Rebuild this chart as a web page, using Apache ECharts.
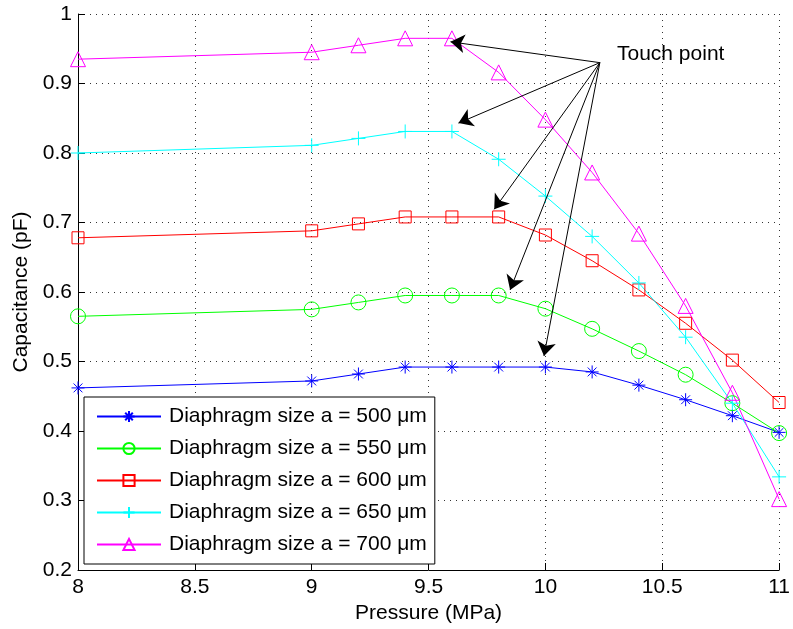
<!DOCTYPE html>
<html>
<head>
<meta charset="utf-8">
<script src="https://cdn.jsdelivr.net/npm/echarts@6/dist/echarts.min.js"></script>
<style>
html, body { margin: 0; padding: 0; background: #fff; }
#main { width: 793px; height: 629px; }
</style>
</head>
<body>
<div id="main"></div>
<script>
var dom = document.getElementById("main");
var myChart = echarts.init(dom);

// pressure (MPa)
var pressure = [8, 9, 9.2, 9.4, 9.6, 9.8, 10, 10.2, 10.4, 10.6, 10.8, 11];

// capacitance (pF) for each diaphragm size
var cap500 = [0.462, 0.472, 0.482, 0.492, 0.492, 0.492, 0.492, 0.485, 0.466, 0.445, 0.422, 0.398];
var cap550 = [0.565, 0.575, 0.585, 0.595, 0.595, 0.595, 0.576, 0.547, 0.515, 0.481, 0.440, 0.397];
var cap600 = [0.678, 0.688, 0.698, 0.708, 0.708, 0.708, 0.682, 0.645, 0.603, 0.555, 0.502, 0.441];
var cap650 = [0.800, 0.811, 0.821, 0.831, 0.831, 0.791, 0.738, 0.680, 0.613, 0.535, 0.440, 0.334];
var cap700 = [0.935, 0.945, 0.955, 0.965, 0.965, 0.916, 0.848, 0.772, 0.684, 0.580, 0.455, 0.302];

var seriesNames = [
    'Diaphragm size a = 500 μm',
    'Diaphragm size a = 550 μm',
    'Diaphragm size a = 600 μm',
    'Diaphragm size a = 650 μm',
    'Diaphragm size a = 700 μm'
];

// touch point annotation: arrows from the label to each curve
var arrowFrom = [10.233, 0.930];
var arrowTips = [
    [9.594, 0.960],
    [9.628, 0.843],
    [9.781, 0.719],
    [9.849, 0.603],
    [9.994, 0.508]
];

var asterisk = 'path://M0,5L10,5M5,0L5,10M1.6,1.6L8.4,8.4M8.4,1.6L1.6,8.4';
var plus = 'path://M0,5L10,5M5,0L5,10';

function pairs(ys) {
    return pressure.map(function (x, i) { return [x, ys[i]]; });
}

function makeSeries(name, ys, color, symbol, size) {
    return {
        name: name,
        type: 'line',
        data: pairs(ys),
        symbol: symbol,
        symbolSize: size,
        showAllSymbol: true,
        lineStyle: { color: color, width: 1 },
        itemStyle: { color: 'rgba(0,0,0,0)', borderColor: color, borderWidth: 1 },
        emphasis: { disabled: true },
        z: 3
    };
}

var series = [
    makeSeries(seriesNames[0], cap500, '#0000ff', asterisk, 13),
    makeSeries(seriesNames[1], cap550, '#00ff00', 'circle', 15),
    makeSeries(seriesNames[2], cap600, '#ff0000', 'rect', 12),
    makeSeries(seriesNames[3], cap650, '#00ffff', plus, 14),
    makeSeries(seriesNames[4], cap700, '#ff00ff', 'triangle', 15),
    {
        name: 'touch',
        type: 'line',
        data: [],
        silent: true,
        markLine: {
            silent: true,
            animation: false,
            symbol: ['none', 'arrow'],
            symbolSize: 14,
            label: { show: false },
            lineStyle: { color: '#000', width: 1, type: 'solid' },
            itemStyle: { color: '#000' },
            data: arrowTips.map(function (t) {
                return [{ coord: arrowFrom }, { coord: t }];
            })
        },
        z: 4
    }
];

var gridLine = { show: true, lineStyle: { color: '#333', width: 1, type: [1, 5] } };
var font = 'Liberation Sans, Arial, sans-serif';

option = {
    animation: false,
    backgroundColor: '#fff',
    textStyle: { fontFamily: font },
    grid: { left: 78, right: 11, top: 14, bottom: 59, containLabel: false },
    legend: {
        data: seriesNames,
        orient: 'vertical',
        left: 84,
        top: 397,
        backgroundColor: '#fff',
        borderColor: '#000',
        borderWidth: 1,
        borderRadius: 0,
        padding: [9, 8, 9, 12],
        itemWidth: 64,
        itemHeight: 14,
        itemGap: 11,
        selectedMode: false,
        textStyle: { color: '#000', fontSize: 21, fontFamily: font, padding: [0, 0, 0, 3] }
    },
    xAxis: {
        type: 'value',
        min: 8,
        max: 11,
        interval: 0.5,
        name: 'Pressure (MPa)',
        nameLocation: 'middle',
        nameGap: 27,
        nameTextStyle: { color: '#000', fontSize: 21 },
        axisLine: { lineStyle: { color: '#000', width: 1 } },
        axisTick: { inside: true, length: 7, lineStyle: { color: '#000' } },
        axisLabel: { color: '#000', fontSize: 21, margin: 7 },
        splitLine: gridLine
    },
    yAxis: {
        type: 'value',
        min: 0.2,
        max: 1,
        interval: 0.1,
        name: 'Capacitance (pF)',
        nameLocation: 'middle',
        nameGap: 45,
        nameTextStyle: { color: '#000', fontSize: 21 },
        axisLine: { show: true, lineStyle: { color: '#000', width: 1 } },
        axisTick: { show: true, inside: true, length: 7, lineStyle: { color: '#000' } },
        axisLabel: { color: '#000', fontSize: 21, margin: 6 },
        splitLine: gridLine
    },
    graphic: [{
        type: 'text',
        left: 617,
        top: 44,
        style: { text: 'Touch point', fill: '#000', font: '21px ' + font }
    }],
    series: series
};

if (option && typeof option === "object") {
    myChart.setOption(option, true);
}
</script>
</body>
</html>
